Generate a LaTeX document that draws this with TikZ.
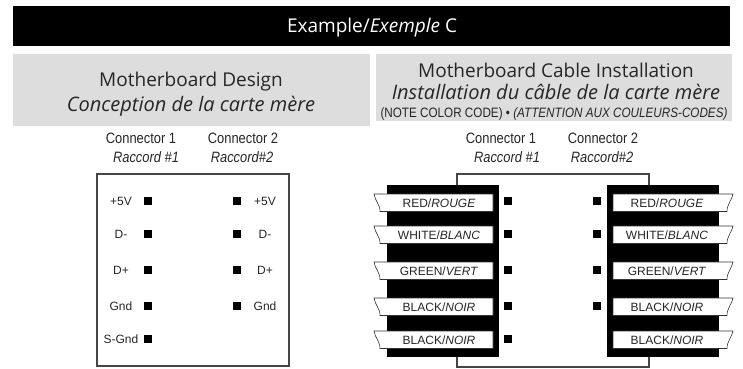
\documentclass[tikz,border=0pt]{standalone}
\usepackage{xcolor}
\usepackage{fontspec}
\setsansfont{Open Sans}
\newfontfamily\labelfont{Liberation Sans}
\newfontfamily\narrowfont[FakeStretch=0.86]{Liberation Sans}
\definecolor{headgray}{RGB}{221,221,221}
\definecolor{linegray}{RGB}{70,70,70}
\tikzset{
	pinbox/.style={fill=black, minimum size=8pt, inner sep=0pt},
	pinlabel/.style={font=\labelfont\fontsize{12}{14}\selectfont, text=black!85},
	heading/.style={font=\sffamily\fontsize{19}{22}\selectfont, text=black!85},
	headingfr/.style={font=\sffamily\itshape\fontsize{20}{22}\selectfont, text=black!85},
	connlabel/.style={font=\narrowfont\fontsize{15}{17}\selectfont, text=black!85},
	tabline/.style={draw=black!80, fill=white, line width=0.6pt},
	wireline/.style={draw=linegray, line width=1.2pt},
}
\begin{document}
\begin{tikzpicture}[x=1pt, y=-1pt, color=black]
	\useasboundingbox (0,0) rectangle (743,368);
	
	% banner and headings
	\fill[black] (13,6) rectangle (730,46);
	\fill[headgray] (13,54) rectangle (370,126);
	\fill[headgray] (376,54) rectangle (732,121);
	\node[heading, text=white] (banner) at (372,28) {Example/\textit{Exemple} C};
	\node[heading] (designEn) at (191,82) {Motherboard Design};
	\node[headingfr] (designFr) at (191,106) {Conception de la carte mère};
	\node[heading] (cableEn) at (556,70) {Motherboard Cable Installation};
	\node[headingfr] (cableFr) at (556,92) {Installation du câble de la carte mère};
	\node[connlabel, font=\narrowfont\fontsize{13.6}{15}\selectfont] (cableNote) at (554,114) {(NOTE COLOR CODE) • \textit{(ATTENTION AUX COULEURS-CODES)}};
	
	% connector captions
	\foreach \name/\x/\xx in {left/141/146, right/501/507}{
		\node[connlabel] (one\name) at (\x,138) {Connector 1};
		\node[connlabel] (rac\name) at (\xx,157) {\textit{Raccord \#1}};
	}
	\foreach \name/\x/\xx in {left/243/242, right/603/602}{
		\node[connlabel] (two\name) at (\x,138) {Connector 2};
		\node[connlabel] (racb\name) at (\xx,157) {\textit{Raccord\#2}};
	}
	
	% left board
	\draw[wireline] (97,174) rectangle (289,366);
	\foreach \i/\y/\txt in {1/201/+5V, 2/234/D-, 3/270/D+, 4/306/Gnd}{
		\node[pinbox] (pinA\i) at (148,\y) {};
		\node[pinbox] (pinB\i) at (237,\y) {};
		\node[pinlabel] (labA\i) at (121,\y) {\txt};
		\node[pinlabel] (labB\i) at (265,\y) {\txt};
	}
	\node[pinbox] (pinA5) at (148,339) {};
	\node[pinlabel] (labA5) at (121,339) {S-Gnd};
	
	% right board, wires first
	\coordinate (wireTL) at (457,185);
	\coordinate (wireTR) at (649,185);
	\coordinate (wireBL) at (457,357);
	\coordinate (wireBR) at (649,357);
	\draw[wireline] (wireTL) -- ++(0,-11) -| (wireTR);
	\draw[wireline] (wireBL) -- ++(0,10) -| (wireBR);
	\fill[black] (387,185) rectangle (499,357);
	\fill[black] (607,185) rectangle (719,357);
	
	\foreach \i/\y/\a/\b in {1/194/RED/ROUGE, 2/226/WHITE/BLANC, 3/262/GREEN/VERT, 4/298/BLACK/NOIR, 5/331/BLACK/NOIR}{
		\draw[tabline] (374,\y) -- (493,\y) -- (493,\y+17.5) -- (380,\y+17.5) .. controls (380,\y+10) and (375,\y+7) .. (374,\y) -- cycle;
		\draw[tabline] (613,\y) -- (733,\y) .. controls (732,\y+6) and (727,\y+10) .. (727,\y+17.5) -- (613,\y+17.5) -- cycle;
		\node[pinlabel] (tabA\i) at (439,\y+9) {\a/\textit{\b}};
		\node[pinlabel] (tabB\i) at (667,\y+9) {\a/\textit{\b}};
	}
	\foreach \i/\y in {1/201, 2/234, 3/270, 4/306}{
		\node[pinbox] (pinC\i) at (508,\y) {};
		\node[pinbox] (pinD\i) at (597,\y) {};
	}
	\node[pinbox] (pinC5) at (508,339) {};
\end{tikzpicture}
\end{document}
